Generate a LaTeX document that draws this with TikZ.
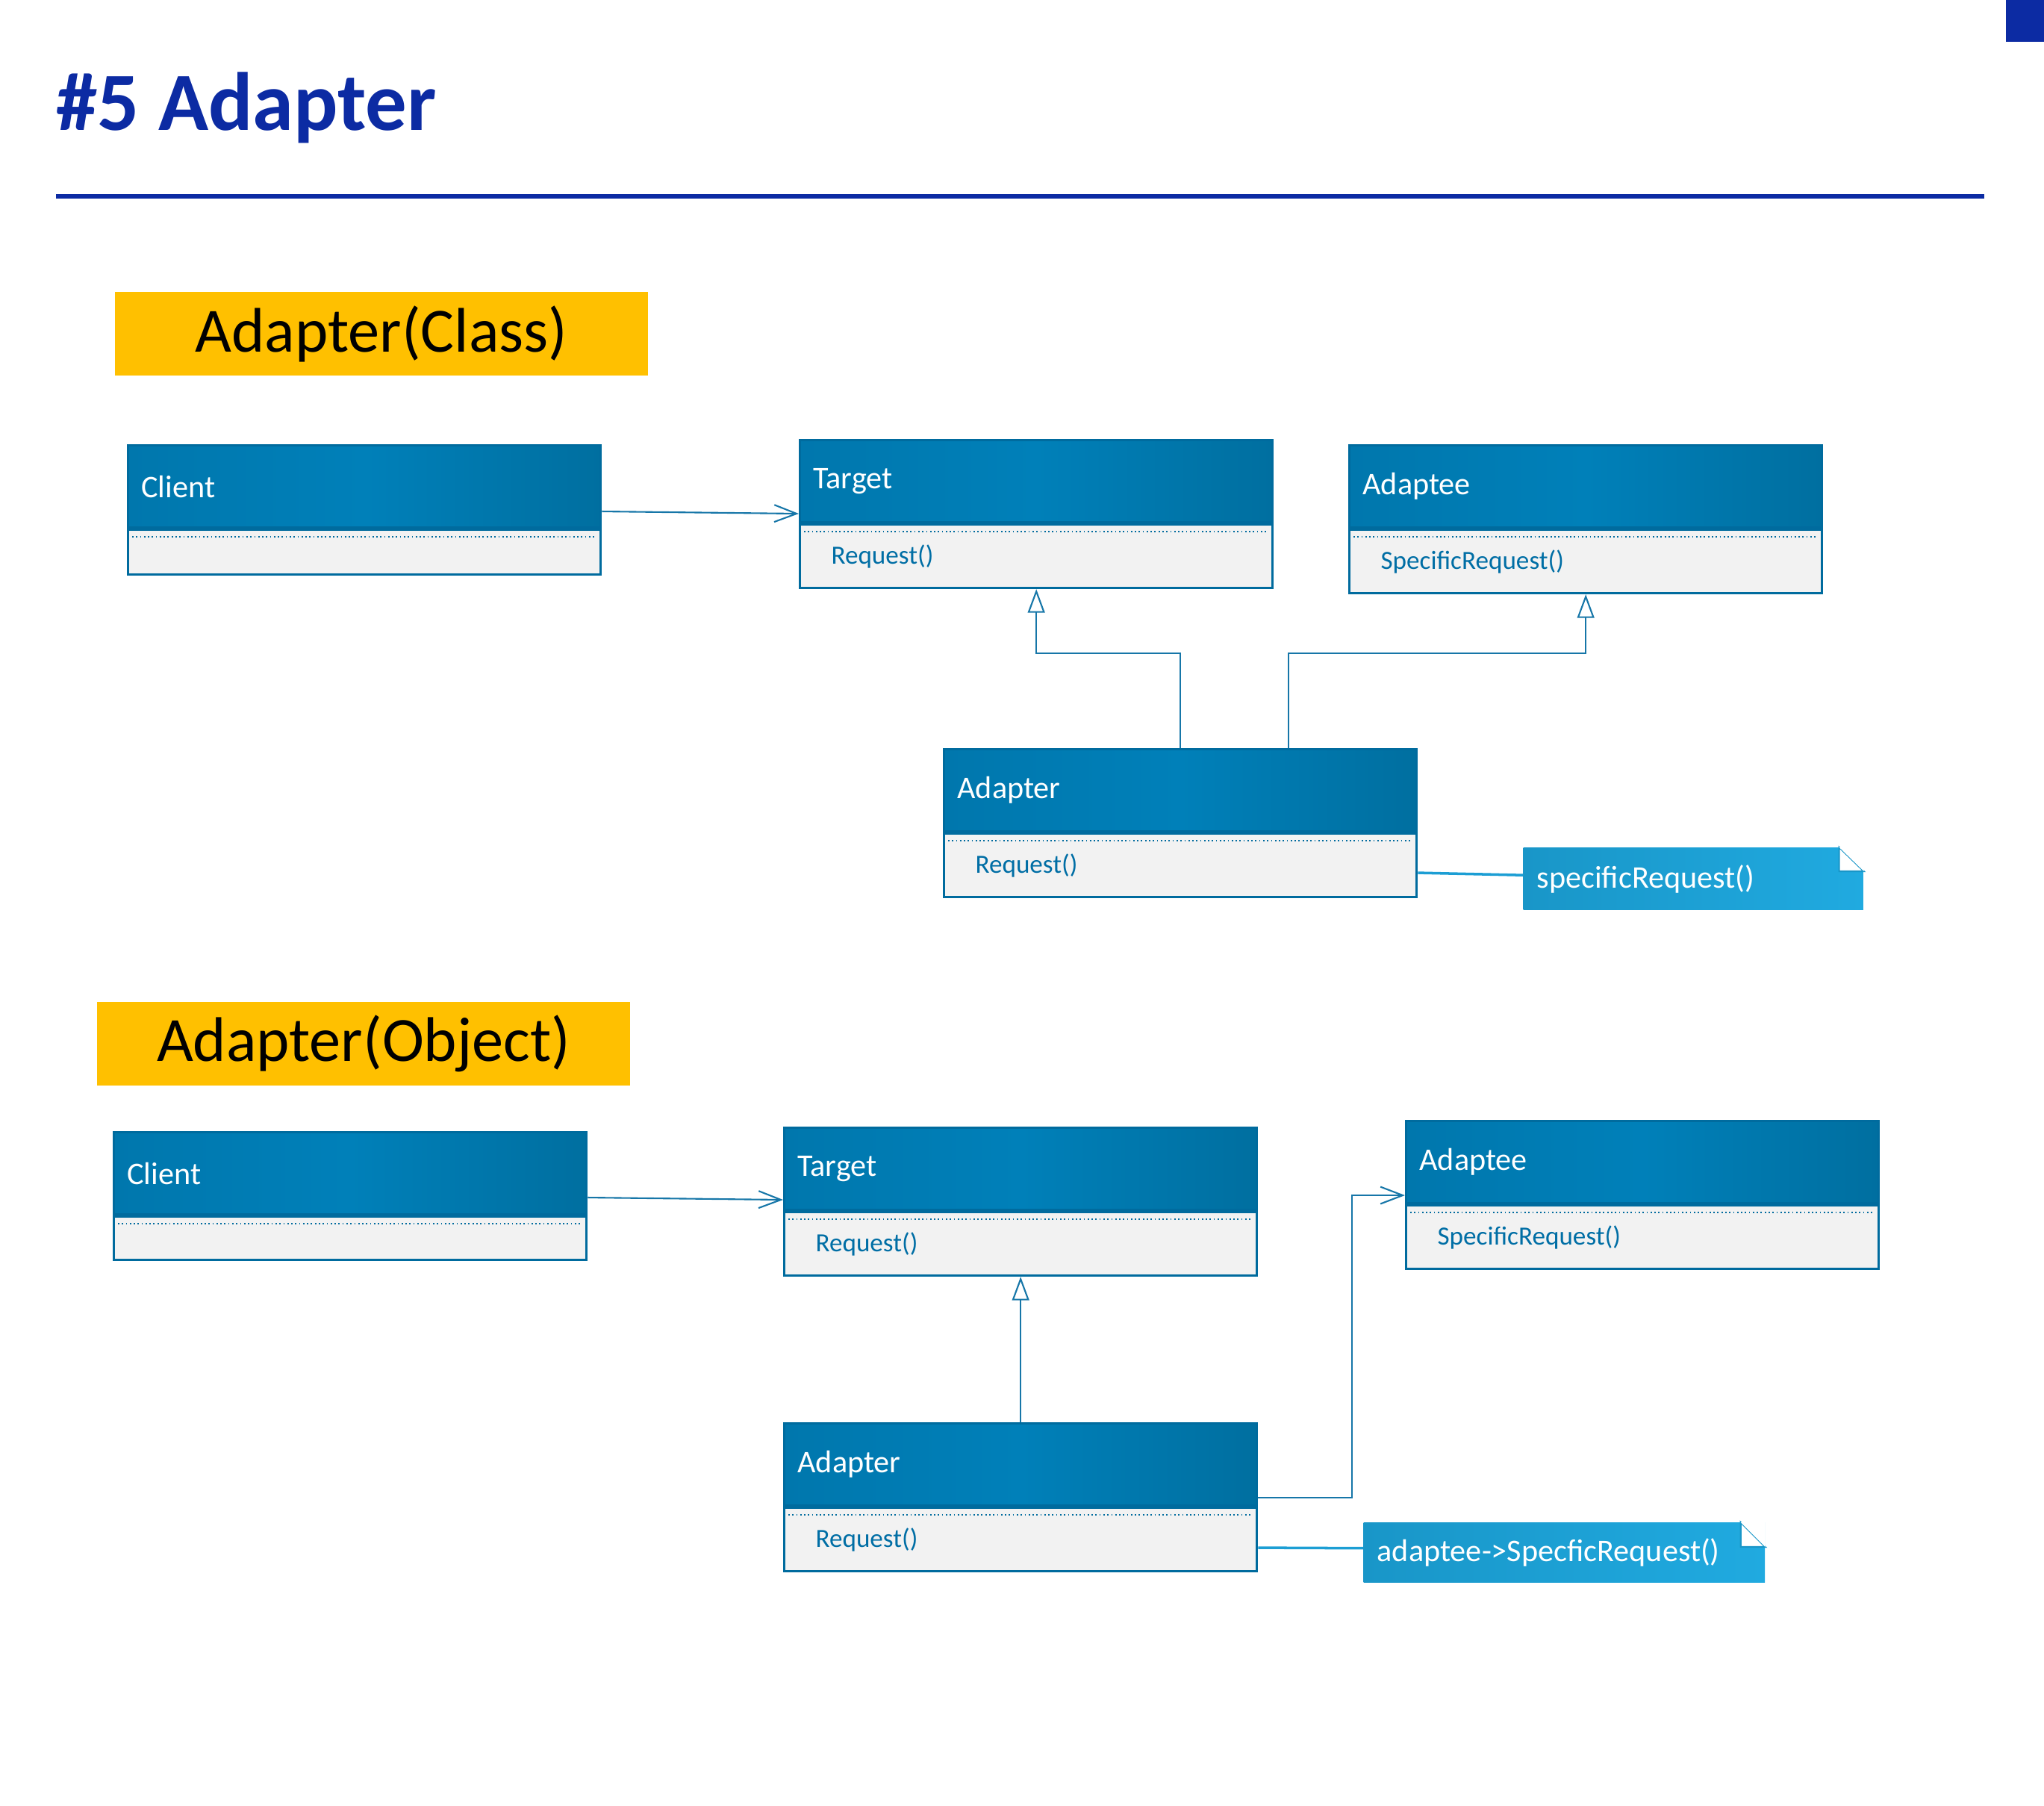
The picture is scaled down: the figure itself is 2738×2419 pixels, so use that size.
\documentclass[tikz,border=0pt]{standalone}
\usepackage{fontspec}
\setmainfont{Carlito}
\usetikzlibrary{positioning,arrows.meta}

\definecolor{TitleBlue}{RGB}{12,43,163}
\definecolor{TagYellow}{RGB}{255,192,0}
\definecolor{HeadL}{RGB}{0,119,173}
\definecolor{HeadM}{RGB}{0,128,185}
\definecolor{HeadR}{RGB}{0,111,160}
\definecolor{ClsLine}{RGB}{0,107,158}
\definecolor{BodyGray}{RGB}{242,242,242}
\definecolor{MethodTxt}{RGB}{0,110,165}
\definecolor{LinkBlue}{RGB}{22,118,168}
\definecolor{NoteL}{RGB}{25,150,200}
\definecolor{NoteR}{RGB}{32,170,224}
\definecolor{NoteLine}{RGB}{28,158,212}

\begin{document}
\begin{tikzpicture}[x=0.01cm, y=-0.01cm,
  classhead/.style={draw=ClsLine, line width=0.85pt, left color=HeadL, right color=HeadR, middle color=HeadM,
    minimum height=1.1cm, text width=5.97cm, inner xsep=0.18cm, align=left, text=white,
    font=\fontsize{12}{14}\selectfont, anchor=north west},
  classbody/.style={draw=ClsLine, line width=0.85pt, fill=BodyGray, minimum height=0.85cm,
    text width=5.49cm, inner xsep=0.42cm, align=left, text=MethodTxt, font=\fontsize{10}{12}\selectfont},
  sepline/.style={draw=ClsLine, line width=0.5pt, densely dotted},
  tag/.style={fill=TagYellow, minimum width=7.14cm, minimum height=1.12cm, text=black,
    font=\fontsize{24}{28}\selectfont},
  notebox/.style={left color=NoteL, right color=NoteR, minimum height=0.83cm, inner xsep=0.18cm,
    align=left, text=white, font=\fontsize{12}{14}\selectfont, anchor=north west},
  flap/.style={fill=white, draw=NoteL, line width=0.6pt},
  assoc/.style={draw=LinkBlue, line width=0.6pt, -{Straight Barb[length=8.5pt,width=6.5pt]}},
  inherit/.style={draw=LinkBlue, line width=0.6pt, -{Triangle[open,length=9pt,width=6.5pt]}},
  notelink/.style={draw=NoteLine, line width=1pt}]
  \useasboundingbox (0,0) rectangle (2738,2419);

  % Title
  \node[anchor=base west, inner sep=0pt, text=TitleBlue, font=\bfseries\fontsize{31.5}{36}\selectfont] (Title) at (75,175) {\#5 Adapter};
  \draw[TitleBlue, line width=1.7pt] (75,263) -- (2658,263);
  \fill[TitleBlue] (2687,0) rectangle (2738,56);

  % Class version
  \node[tag] (TagA) at (511,447) {Adapter(Class)};
  \node[classhead] (ClientA) at (170,595) {Client};
  \node[classbody, minimum height=0.6cm, below=0pt of ClientA] (ClientAb) {};
  \node[classhead] (TargetA) at (1070,588) {Target};
  \node[classbody, below=0pt of TargetA] (TargetAb) {Request()};
  \node[classhead] (AdapteeA) at (1806,595) {Adaptee};
  \node[classbody, below=0pt of AdapteeA] (AdapteeAb) {SpecificRequest()};
  \node[classhead] (AdapterA) at (1263,1002) {Adapter};
  \node[classbody, below=0pt of AdapterA] (AdapterAb) {Request()};
  \node[notebox, text width=4.19cm] (NoteA) at (2040,1135) {specificRequest()};
  \filldraw[flap] ([xshift=-0.33cm]NoteA.north east) -- ([shift={(-0.33cm,-0.32cm)}]NoteA.north east) -- ([yshift=-0.32cm]NoteA.north east) -- cycle;
  \fill[white] ([xshift=-0.33cm]NoteA.north east) -- (NoteA.north east) -- ([yshift=-0.32cm]NoteA.north east) -- cycle;

  % Object version
  \node[tag] (TagB) at (487,1398) {Adapter(Object)};
  \node[classhead] (ClientB) at (151,1515) {Client};
  \node[classbody, minimum height=0.58cm, below=0pt of ClientB] (ClientBb) {};
  \node[classhead] (TargetB) at (1049,1509) {Target};
  \node[classbody, below=0pt of TargetB] (TargetBb) {Request()};
  \node[classhead] (AdapteeB) at (1882,1500) {Adaptee};
  \node[classbody, below=0pt of AdapteeB] (AdapteeBb) {SpecificRequest()};
  \node[classhead] (AdapterB) at (1049,1905) {Adapter};
  \node[classbody, below=0pt of AdapterB] (AdapterBb) {Request()};
  \node[notebox, minimum height=0.8cm, text width=5.01cm] (NoteB) at (1826,2039) {adaptee->SpecficRequest()};
  \filldraw[flap] ([xshift=-0.33cm]NoteB.north east) -- ([shift={(-0.33cm,-0.33cm)}]NoteB.north east) -- ([yshift=-0.33cm]NoteB.north east) -- cycle;
  \fill[white] ([xshift=-0.33cm]NoteB.north east) -- (NoteB.north east) -- ([yshift=-0.33cm]NoteB.north east) -- cycle;

  % Dotted separators
  \draw[sepline] ([shift={(0.07cm,-0.11cm)}]ClientAb.north west) -- ([shift={(-0.07cm,-0.11cm)}]ClientAb.north east);
  \draw[sepline] ([shift={(0.07cm,-0.11cm)}]TargetAb.north west) -- ([shift={(-0.07cm,-0.11cm)}]TargetAb.north east);
  \draw[sepline] ([shift={(0.07cm,-0.11cm)}]AdapteeAb.north west) -- ([shift={(-0.07cm,-0.11cm)}]AdapteeAb.north east);
  \draw[sepline] ([shift={(0.07cm,-0.11cm)}]AdapterAb.north west) -- ([shift={(-0.07cm,-0.11cm)}]AdapterAb.north east);
  \draw[sepline] ([shift={(0.07cm,-0.11cm)}]ClientBb.north west) -- ([shift={(-0.07cm,-0.11cm)}]ClientBb.north east);
  \draw[sepline] ([shift={(0.07cm,-0.11cm)}]TargetBb.north west) -- ([shift={(-0.07cm,-0.11cm)}]TargetBb.north east);
  \draw[sepline] ([shift={(0.07cm,-0.11cm)}]AdapteeBb.north west) -- ([shift={(-0.07cm,-0.11cm)}]AdapteeBb.north east);
  \draw[sepline] ([shift={(0.07cm,-0.11cm)}]AdapterBb.north west) -- ([shift={(-0.07cm,-0.11cm)}]AdapterBb.north east);

  % Connectors, class version
  \draw[assoc] ([yshift=0.23cm]ClientA.south east) -- ([yshift=0.13cm]TargetA.south west);
  \coordinate (KinkA) at (0,875);
  \coordinate (ForkA) at ([xshift=1.45cm]AdapterA.north);
  \draw[inherit] (AdapterA.north) -- (AdapterA.north |- KinkA) -| (TargetAb.south);
  \draw[inherit] (ForkA) -- (ForkA |- KinkA) -| (AdapteeAb.south);
  \draw[notelink] ([yshift=-0.1cm]AdapterAb.east) -- ([yshift=0.05cm]NoteA.west);

  % Connectors, object version
  \draw[assoc] ([yshift=0.24cm]ClientB.south east) -- ([yshift=0.15cm]TargetB.south west);
  \draw[inherit] (AdapterB.north) -- (TargetBb.south);
  \coordinate (KinkB) at (1811,0);
  \coordinate (OutB) at ([yshift=0.12cm]AdapterB.south east);
  \coordinate (InB) at ([yshift=0.12cm]AdapteeB.south west);
  \draw[assoc] (OutB) -| (KinkB |- InB) -- (InB);
  \draw[notelink] ([yshift=-0.11cm]AdapterBb.east) -- ([yshift=0.06cm]NoteB.west);

\end{tikzpicture}
\end{document}
